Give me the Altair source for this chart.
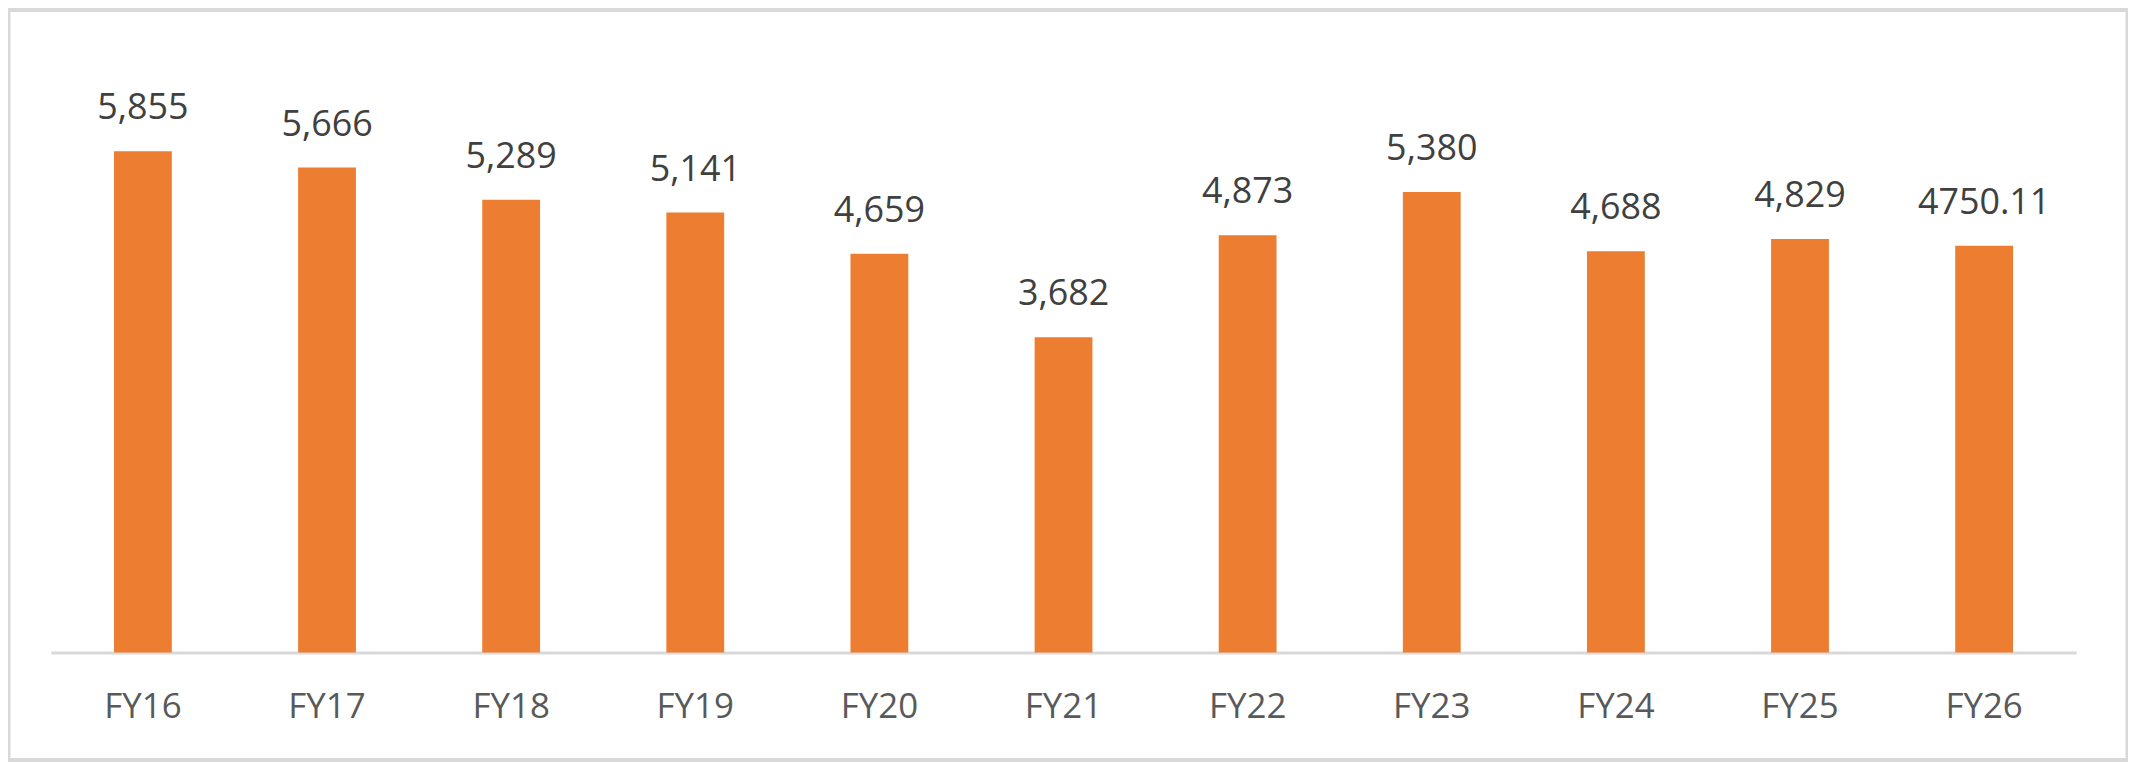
import altair as alt
import pandas as pd

categories = ["FY16", "FY17", "FY18", "FY19", "FY20", "FY21", "FY22", "FY23", "FY24", "FY25", "FY26"]
values = [5855, 5666, 5289, 5141, 4659, 3682, 4873, 5380, 4688, 4829, 4750.11]
labels = ["5,855", "5,666", "5,289", "5,141", "4,659", "3,682", "4,873", "5,380", "4,688", "4,829", "4750.11"]

df = pd.DataFrame({"cat": categories, "val": values, "lab": labels})

FONT = "Open Sans"

x = alt.X(
    "cat:N",
    sort=categories,
    title=None,
    scale=alt.Scale(range=[43, 2076], paddingInner=0.686, paddingOuter=0.343),
    axis=alt.Axis(
        orient="bottom",
        offset=-108.5,
        domainColor="#d9d9d9",
        domainWidth=3,
        ticks=False,
        tickSize=0,
        labelAngle=0,
        labelFont=FONT,
        labelFontSize=35,
        labelColor="#595959",
        labelPadding=65.5,
        labelBaseline="alphabetic",
        grid=False,
    ),
)
y = alt.Y(
    "val:Q",
    title=None,
    scale=alt.Scale(domain=[0, 7000], range=[645.5, 44], nice=False),
    axis=None,
)

base = alt.Chart(df)
bars = base.mark_bar(color="#ED7D31").encode(x=x, y=y)
text = base.mark_text(
    font=FONT, fontSize=36, color="#404040", baseline="alphabetic", dy=-32
).encode(x=alt.X("cat:N", sort=categories), y=alt.Y("val:Q"), text="lab:N")

chart = (
    alt.layer(bars, text)
    .properties(width=2128, height=754, autosize=alt.AutoSizeParams(type="none"), padding=0)
    .configure(background="white")
    .configure_view(stroke="#d9d9d9", strokeWidth=5)
)

chart.save("out.html", embed_options={"renderer": "svg", "actions": False})
